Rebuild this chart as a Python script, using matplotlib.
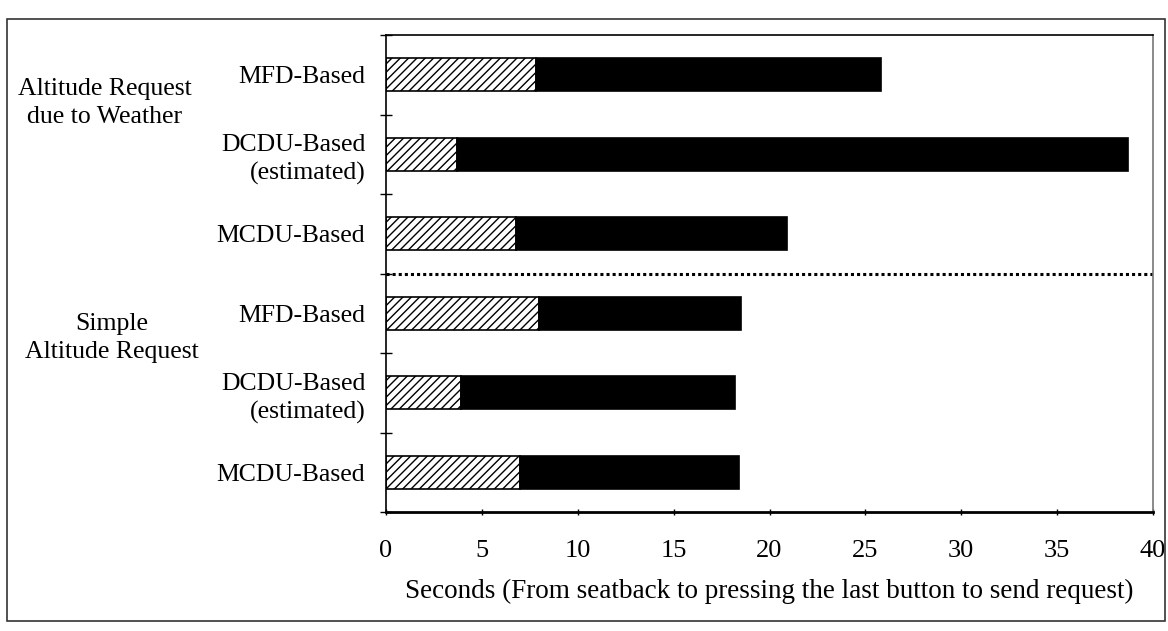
import numpy as np
import matplotlib
matplotlib.use("Agg")
import matplotlib.pyplot as plt
from matplotlib.patches import Rectangle

plt.rcParams['font.family'] = ['Liberation Serif', 'DejaVu Serif']
plt.rcParams['hatch.linewidth'] = 1.0

# ----- data -----
bar_labels = ['MFD-Based', 'DCDU-Based\n(estimated)', 'MCDU-Based',
              'MFD-Based', 'DCDU-Based\n(estimated)', 'MCDU-Based']
first_part = [7.8, 3.7, 6.8, 8.0, 3.9, 7.0]       # hatched segment
second_part = [18.0, 35.0, 14.1, 10.5, 14.3, 11.4]  # black segment
group_labels = ['Altitude Request\ndue to Weather', 'Simple\nAltitude Request']
x_ticks = [0, 5, 10, 15, 20, 25, 30, 35, 40]
x_label = 'Seconds (From seatback to pressing the last button to send request)'

fig = plt.figure(figsize=(11.68, 6.31), dpi=100)
ax = fig.add_axes([386 / 1168, 1 - 512 / 631, (1153 - 386) / 1168, (512 - 35) / 631])

y = np.arange(len(bar_labels))
ax.barh(y, first_part, height=0.42, color='white', edgecolor='black',
        hatch='////', linewidth=1.2)
ax.barh(y, second_part, left=first_part, height=0.42, color='black',
        edgecolor='black', linewidth=1.2)

ax.set_xlim(0, 40)
ax.set_ylim(len(bar_labels) - 0.5, -0.5)
ax.set_xticks(x_ticks)
ax.set_xticklabels([str(t) for t in x_ticks], fontsize=19)
ax.set_yticks(y)
ax.set_yticklabels(bar_labels, fontsize=18.5, linespacing=1.32)
ax.set_yticks(np.arange(len(bar_labels) + 1) - 0.5, minor=True)
ax.tick_params(axis='y', which='major', length=0, pad=15)
ax.tick_params(axis='y', which='minor', length=8, direction='inout', width=1)
ax.tick_params(axis='x', which='major', length=4, direction='inout', width=1, pad=18)
ax.set_xlabel(x_label, fontsize=19.5, labelpad=12)

for side in ['left', 'top', 'right']:
    ax.spines[side].set_linewidth(1.2)
ax.spines['right'].set_color('#777777')
ax.spines['bottom'].set_linewidth(2)

# dotted divider between the two groups
ax.axhline(2.5, color='black', linestyle=(0, (1, 1)), linewidth=2.2)

# group labels on the far left
fig.text(105 / 1168, 1 - 103 / 631, group_labels[0], fontsize=18.5,
         ha='center', va='center', linespacing=1.35)
fig.text(112 / 1168, 1 - 338 / 631, group_labels[1], fontsize=18.5,
         ha='center', va='center', linespacing=1.35)

# outer frame around the whole chart
fig.patches.append(Rectangle((7 / 1168, 1 - 621 / 631), (1165 - 7) / 1168,
                             (621 - 19) / 631, transform=fig.transFigure,
                             fill=False, edgecolor='#333333', linewidth=1.2))

fig.savefig('out.png', dpi=100)
